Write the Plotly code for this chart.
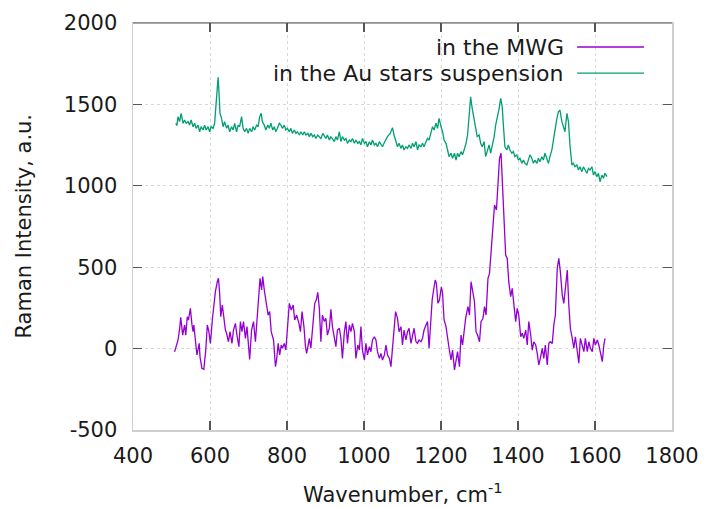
import plotly.graph_objects as go

# ---------------- data ----------------
wn_mwg = [508, 512, 517, 521, 524, 529, 534, 537, 541, 544, 549, 553, 556, 558, 562, 566, 572, 574, 579, 584,
          589, 593, 597, 601, 606, 610, 614, 619, 622, 625, 628, 632, 636, 640, 643, 648, 652, 657, 661, 666,
          670, 675, 679, 683, 687, 692, 696, 700, 703, 708, 713, 718, 723, 727, 730, 734, 737, 741, 746, 751,
          755, 759, 765, 770, 773, 777, 781, 785, 788, 793, 797, 802, 806, 811, 816, 820, 825, 831, 835, 839,
          844, 848, 851, 855, 858, 862, 868, 872, 876, 880, 884, 888, 892, 897, 901, 905, 910, 914, 918, 923,
          927, 931, 936, 940, 944, 949, 953, 957, 962, 966, 970, 975, 979, 984, 988, 992, 996, 1001, 1005, 1009,
          1014, 1018, 1022, 1027, 1031, 1035, 1040, 1044, 1048, 1053, 1057, 1061, 1066, 1070, 1074, 1078, 1082, 1087, 1091, 1096,
          1100, 1104, 1109, 1113, 1117, 1122, 1126, 1130, 1135, 1139, 1143, 1148, 1152, 1156, 1161, 1165, 1169, 1174, 1177, 1182,
          1185, 1188, 1192, 1196, 1201, 1204, 1208, 1213, 1217, 1221, 1226, 1230, 1235, 1239, 1243, 1248, 1252, 1256, 1260, 1264,
          1270, 1274, 1278, 1282, 1287, 1291, 1295, 1300, 1304, 1309, 1313, 1317, 1322, 1326, 1331, 1335, 1339, 1344, 1348, 1352,
          1356, 1359, 1364, 1368, 1372, 1376, 1381, 1385, 1389, 1394, 1398, 1402, 1407, 1411, 1415, 1420, 1424, 1428, 1433, 1437,
          1441, 1446, 1450, 1454, 1458, 1463, 1467, 1471, 1476, 1480, 1484, 1489, 1493, 1497, 1502, 1506, 1510, 1515, 1519, 1523,
          1528, 1532, 1536, 1541, 1545, 1549, 1554, 1558, 1562, 1567, 1571, 1575, 1580, 1584, 1588, 1593, 1597, 1601, 1606, 1610,
          1614, 1619, 1623, 1626]
int_mwg = [-20, 10, 53, 120, 192, 83, 145, 83, 196, 175, 247, 150, 104, 145, 60, -39, 32, -50, -121, -127,
           -9, 145, 104, 32, 176, 278, 350, 411, 432, 340, 196, 268, 186, 114, 94, 42, 104, 32, 114, 155,
           83, 12, 166, 104, 166, 63, 135, 40, -66, 114, 166, 42, 186, 350, 432, 360, 442, 360, 278, 206,
           227, 104, 53, -111, -70, 32, -39, 22, 2, 32, -9, 176, 278, 237, 268, 176, 206, 155, 104, 227,
           135, 12, -29, 22, 63, 2, 176, 278, 298, 346, 247, 42, 206, 166, 186, 83, 125, 241, 135, 63,
           12, 114, 125, 63, -60, 104, 166, 32, 145, 104, 155, 104, -60, 22, -9, 135, -9, -70, 32, -39,
           12, -19, 53, 73, 53, -19, -60, -29, -70, -39, 22, -39, -60, -111, -9, 104, 227, 186, 104, 135,
           22, 114, 53, 104, 125, 32, 83, 125, 42, 32, 53, 42, 63, 114, 145, 166, 2, 186, 298, 380,
           421, 401, 278, 298, 380, 340, 176, 135, 53, 2, -70, -9, -131, -70, -19, -111, 83, 22, 120, 186,
           258, 206, 411, 350, 288, 104, 83, 42, 166, 186, 258, 206, 432, 462, 636, 759, 882, 851, 1046, 1169,
           1200, 1005, 780, 575, 554, 411, 319, 370, 278, 166, 247, 206, 73, 94, 63, 114, 22, 166, 83, -9,
           42, 22, -29, -101, -60, 2, -60, 22, -101, 32, 42, 32, 145, 206, 493, 555, 473, 329, 278, 391,
           483, 268, 125, 63, 2, 73, -39, -90, 63, 22, -19, 63, -19, 42, 2, -19, 63, 22, 53, 22,
           -29, -80, 22, 63]

wn_au = [511, 514, 517, 521, 525, 530, 534, 538, 543, 547, 551, 556, 560, 564, 569, 573, 577, 582, 586, 590,
         595, 599, 603, 608, 612, 616, 619, 621, 623, 626, 630, 634, 638, 643, 647, 651, 656, 660, 664, 669,
         673, 677, 682, 686, 690, 695, 699, 703, 708, 712, 716, 721, 725, 729, 733, 736, 741, 745, 750, 754,
         758, 763, 767, 771, 775, 780, 784, 788, 793, 797, 801, 806, 810, 814, 819, 823, 827, 832, 836, 841,
         845, 849, 854, 858, 862, 867, 871, 875, 880, 884, 888, 893, 897, 901, 905, 910, 914, 918, 923, 927,
         931, 936, 940, 944, 949, 953, 957, 962, 966, 970, 975, 979, 984, 988, 992, 996, 1001, 1005, 1009, 1014,
         1018, 1022, 1027, 1031, 1035, 1040, 1044, 1048, 1052, 1061, 1068, 1074, 1078, 1082, 1087, 1091, 1096, 1100, 1104, 1109,
         1113, 1117, 1122, 1126, 1130, 1135, 1139, 1143, 1148, 1152, 1156, 1161, 1165, 1169, 1174, 1178, 1182, 1187, 1191, 1195,
         1200, 1204, 1208, 1213, 1217, 1221, 1226, 1230, 1235, 1239, 1243, 1247, 1252, 1256, 1260, 1265, 1269, 1273, 1277, 1281,
         1286, 1290, 1294, 1299, 1303, 1307, 1312, 1316, 1320, 1325, 1329, 1333, 1338, 1342, 1346, 1351, 1355, 1359, 1362, 1366,
         1371, 1375, 1379, 1384, 1388, 1392, 1397, 1401, 1405, 1410, 1414, 1418, 1423, 1427, 1431, 1436, 1440, 1444, 1449, 1453,
         1457, 1462, 1466, 1470, 1475, 1479, 1483, 1488, 1492, 1496, 1501, 1505, 1509, 1514, 1518, 1522, 1527, 1531, 1535, 1540,
         1544, 1548, 1553, 1557, 1561, 1566, 1570, 1574, 1579, 1583, 1587, 1592, 1596, 1600, 1605, 1609, 1613, 1618, 1622, 1626,
         1631]
int_au = [1384, 1370, 1425, 1394, 1445, 1384, 1404, 1384, 1394, 1373, 1404, 1363, 1384, 1353, 1373, 1332, 1363, 1343, 1373, 1343,
          1363, 1332, 1363, 1353, 1384, 1507, 1620, 1666, 1588, 1445, 1414, 1363, 1394, 1353, 1373, 1332, 1363, 1343, 1384, 1332,
          1373, 1363, 1425, 1353, 1332, 1353, 1322, 1353, 1332, 1363, 1343, 1373, 1363, 1425, 1445, 1394, 1373, 1343, 1373, 1353,
          1384, 1343, 1363, 1332, 1353, 1384, 1373, 1353, 1373, 1343, 1353, 1332, 1353, 1322, 1343, 1322, 1332, 1312, 1332, 1312,
          1332, 1312, 1322, 1302, 1322, 1302, 1312, 1291, 1312, 1302, 1291, 1322, 1302, 1291, 1312, 1281, 1302, 1291, 1271, 1302,
          1281, 1332, 1271, 1302, 1281, 1291, 1261, 1281, 1271, 1291, 1261, 1281, 1261, 1271, 1251, 1291, 1261, 1271, 1240, 1271,
          1251, 1281, 1251, 1261, 1240, 1271, 1251, 1240, 1261, 1302, 1322, 1357, 1312, 1281, 1240, 1261, 1230, 1251, 1220, 1240,
          1230, 1251, 1230, 1261, 1240, 1271, 1220, 1251, 1240, 1261, 1240, 1271, 1291, 1281, 1332, 1363, 1343, 1384, 1353, 1414,
          1363, 1332, 1281, 1261, 1220, 1179, 1200, 1169, 1200, 1158, 1200, 1179, 1210, 1190, 1220, 1261, 1312, 1435, 1547, 1476,
          1414, 1353, 1302, 1312, 1261, 1240, 1271, 1179, 1220, 1251, 1200, 1240, 1302, 1373, 1414, 1476, 1537, 1486, 1373, 1240,
          1220, 1251, 1220, 1200, 1210, 1179, 1190, 1158, 1169, 1138, 1158, 1138, 1128, 1158, 1190, 1169, 1138, 1158, 1138, 1169,
          1148, 1179, 1158, 1200, 1169, 1138, 1179, 1220, 1281, 1353, 1414, 1455, 1465, 1394, 1363, 1332, 1445, 1394, 1251, 1128,
          1138, 1117, 1128, 1097, 1117, 1087, 1117, 1097, 1077, 1107, 1097, 1117, 1066, 1087, 1056, 1077, 1025, 1066, 1046, 1077,
          1056]

series_names = ["in the MWG", "in the Au stars suspension"]
series_colors = ["#9400D3", "#009E73"]

x_ticks = [400, 600, 800, 1000, 1200, 1400, 1600, 1800]
x_labels = ["400", "600", "800", "1000", "1200", "1400", "1600", "1800"]
y_ticks = [-500, 0, 500, 1000, 1500, 2000]
y_labels = ["-500", "0", "500", "1000", "1500", "2000"]

x_title = "Wavenumber, cm<sup>-1</sup>"
y_title = "Raman Intensity, a.u."

FONT = "DejaVu Sans"
FS = 21
TXT = "#1a1a1a"

fig = go.Figure()
fig.add_trace(go.Scatter(x=wn_mwg, y=int_mwg, mode="lines", name=series_names[0],
                         line=dict(color=series_colors[0], width=1.3)))
fig.add_trace(go.Scatter(x=wn_au, y=int_au, mode="lines", name=series_names[1],
                         line=dict(color=series_colors[1], width=1.3)))

axis_common = dict(
    showline=True, linecolor="#cfcfcf", linewidth=1.5, mirror="ticks",
    ticks="inside", ticklen=9, tickwidth=1.2, tickcolor="#555555",
    showgrid=True, gridcolor="#d9d9d9", griddash="dot", gridwidth=1,
    zeroline=False, automargin=False,
    tickfont=dict(family=FONT, size=FS, color=TXT),
)

fig.update_layout(
    width=707, height=508,
    margin=dict(l=133, r=35, t=23, b=78, autoexpand=False),
    paper_bgcolor="white", plot_bgcolor="white",
    showlegend=False,
    font=dict(family=FONT, size=FS, color=TXT),
    xaxis=dict(range=[400, 1800], tickvals=x_ticks, ticktext=x_labels, ticklabelstandoff=6,
               **axis_common),
    yaxis=dict(range=[-500, 2000], tickvals=y_ticks, ticktext=y_labels, ticklabelstandoff=10,
               **axis_common),
)

# axis titles as annotations for exact placement
fig.add_annotation(xref="paper", yref="paper", x=0.5, y=-0.155, text=x_title, showarrow=False,
                   xanchor="center", yanchor="middle", font=dict(family=FONT, size=FS, color=TXT))
fig.add_annotation(xref="paper", yref="paper", x=-0.204, y=0.5, text=y_title, showarrow=False,
                   textangle=-90, xanchor="center", yanchor="middle", font=dict(family=FONT, size=FS, color=TXT))

# dark top border like the reference
fig.add_shape(type="line", xref="paper", yref="paper", x0=0, x1=1, y0=1, y1=1,
              line=dict(color="#555555", width=1.2))

# manual legend (text right-aligned, sample line to the right)
legend_y = [0.941, 0.877]
for name, color, ly in zip(series_names, series_colors, legend_y):
    fig.add_annotation(xref="paper", yref="paper", x=0.803, y=ly, text=name, showarrow=False,
                       xanchor="right", yanchor="middle", font=dict(family=FONT, size=22, color=TXT))
    fig.add_shape(type="line", xref="paper", yref="paper", x0=0.824, x1=0.948, y0=ly, y1=ly,
                  line=dict(color=color, width=1.3))

fig.write_html("out.html",
               config={"displayModeBar": False, "staticPlot": True},
               post_script="document.body.style.margin='0';document.body.style.padding='0';"
                           "document.documentElement.style.overflow='hidden';")
